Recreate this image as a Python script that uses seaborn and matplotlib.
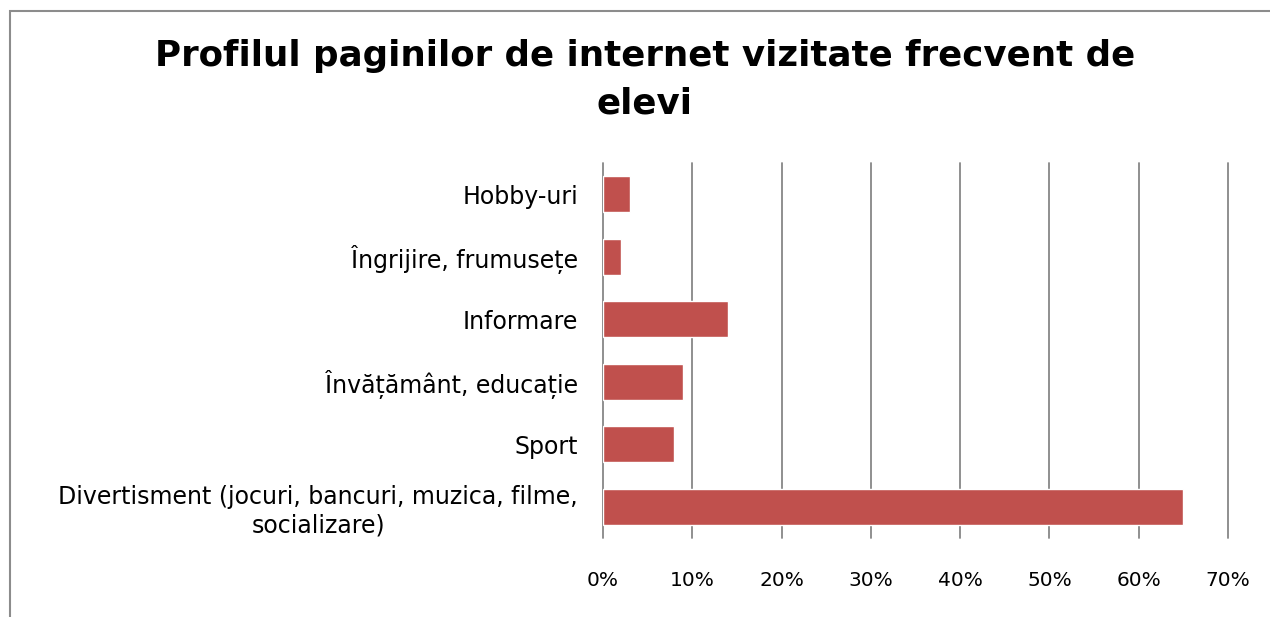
import matplotlib
matplotlib.use("Agg")
import matplotlib.pyplot as plt
import matplotlib.patches as patches
import seaborn as sns
import pandas as pd

# Data (top to bottom)
categories = ["Hobby-uri", "Îngrijire, frumusețe", "Informare",
              "Învățământ, educație", "Sport",
              "Divertisment (jocuri, bancuri, muzica, filme,\nsocializare)"]
values = [3, 2, 14, 9, 8, 65]
ticks = [0, 10, 20, 30, 40, 50, 60, 70]

df = pd.DataFrame({"categorie": categories, "procent": values})

sns.set_style("white")
plt.rcParams["font.family"] = ["DejaVu Sans"]
plt.rcParams["text.color"] = "black"
plt.rcParams["xtick.color"] = "black"
plt.rcParams["ytick.color"] = "black"

fig = plt.figure(figsize=(12.7, 6.17), dpi=100)
ax = fig.add_axes([603 / 1270, 1 - 538 / 617, 625 / 1270, 375 / 617])

sns.barplot(data=df, x="procent", y="categorie", color="#C0504D",
            width=0.58, saturation=1, ax=ax, orient="h")

ax.set_xlim(0, 70)
ax.set_xticks(ticks)
ax.set_xticklabels([str(t) + "%" for t in ticks], fontsize=14.5)
ax.tick_params(axis="x", length=0, pad=24, labelcolor="black")
ax.tick_params(axis="y", length=0, pad=18, labelcolor="black")
for lbl in ax.get_yticklabels():
    lbl.set_fontsize(17)
    lbl.set_multialignment("center")
ax.xaxis.grid(True, color="#878787", linewidth=1.3)
for gl in ax.get_xgridlines():
    gl.set_clip_on(False)
ax.set_axisbelow(True)
for s in ax.spines.values():
    s.set_visible(False)
ax.set_xlabel("")
ax.set_ylabel("")

# Title
fig.text(645 / 1270, 1 - 80 / 617,
         "Profilul paginilor de internet vizitate frecvent de\nelevi",
         ha="center", va="center", fontsize=25.7, fontweight="bold",
         linespacing=1.5, color="black")

# Chart border (cut at right/bottom like the reference)
border = patches.Rectangle((10 / 1270, -0.1), 1.2, 1 - 11 / 617 + 0.1,
                           transform=fig.transFigure, fill=False,
                           edgecolor="#8c8c8c", linewidth=1.5)
fig.patches.append(border)

fig.savefig("out.png", dpi=100)
